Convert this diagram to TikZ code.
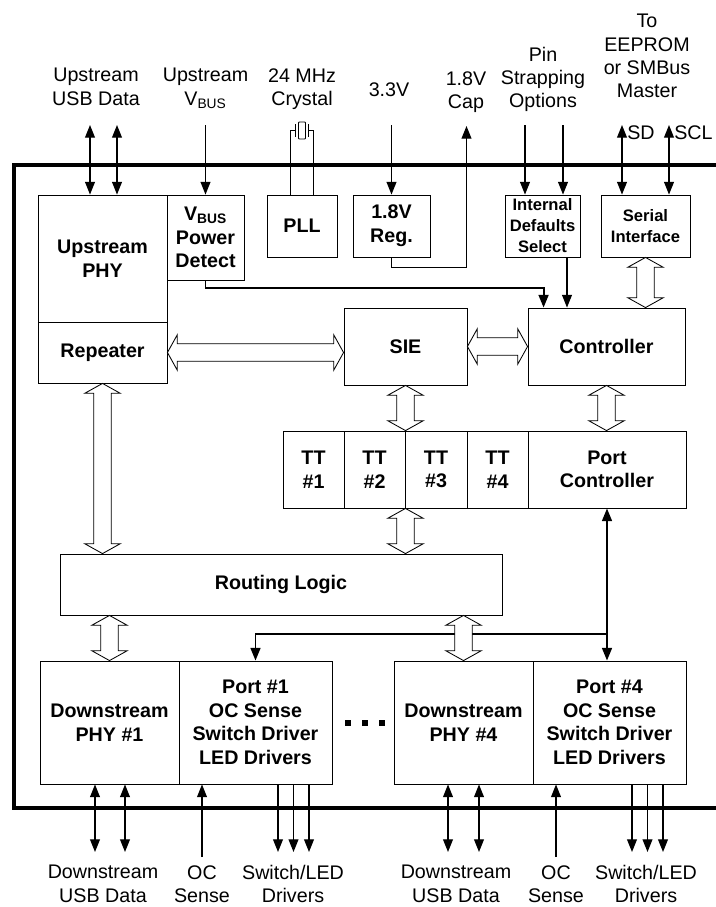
\documentclass[tikz,border=0pt]{standalone}
\usepackage{fontspec}
\setmainfont{Liberation Sans}
\usepackage{tikz}
\usetikzlibrary{positioning,calc,arrows.meta}

\tikzset{
  block/.style={draw, rectangle, line width=0.6pt, inner sep=0pt, align=center, font=\bfseries\fontsize{14}{16.8}\selectfont},
  smallblock/.style={block, font=\bfseries\fontsize{11.8}{14.9}\selectfont},
  schrift/.style={align=center, inner sep=0pt, font=\fontsize{14}{16.5}\selectfont},
  pfeil/.style={line width=0.9pt, -{Triangle[length=9pt,width=7pt]}},
  doppelpfeil/.style={line width=0.9pt, {Triangle[length=9pt,width=7pt]}-{Triangle[length=9pt,width=7pt]}},
  hohlpfeil/.style={draw, fill=white, line width=0.6pt, to path={
    let \p1=(\tikztostart), \p2=(\tikztotarget),
        \n1={veclen(\x2-\x1,\y2-\y1)}, \n2={(\x2-\x1)/\n1}, \n3={(\y2-\y1)/\n1}
    in (\p1) -- ({\x1+7pt*\n2-12.6pt*\n3},{\y1+7pt*\n3+12.6pt*\n2})
       -- ({\x1+7pt*\n2-6.2pt*\n3},{\y1+7pt*\n3+6.2pt*\n2})
       -- ({\x2-7pt*\n2-6.2pt*\n3},{\y2-7pt*\n3+6.2pt*\n2})
       -- ({\x2-7pt*\n2-12.6pt*\n3},{\y2-7pt*\n3+12.6pt*\n2})
       -- (\p2)
       -- ({\x2-7pt*\n2+12.6pt*\n3},{\y2-7pt*\n3-12.6pt*\n2})
       -- ({\x2-7pt*\n2+6.2pt*\n3},{\y2-7pt*\n3-6.2pt*\n2})
       -- ({\x1+7pt*\n2+6.2pt*\n3},{\y1+7pt*\n3-6.2pt*\n2})
       -- ({\x1+7pt*\n2+12.6pt*\n3},{\y1+7pt*\n3-12.6pt*\n2})
       -- cycle}}
}

\begin{document}
\begin{tikzpicture}[x=0.025cm, y=-0.025cm]

    \useasboundingbox (0,0) rectangle (716,907);

    % Chipgrenze
    \draw[line width=2.8pt] (716,165) -- (14,165) -- (14,808) -- (716,808);

    % Bloecke oben
    \node (UpstreamPHY) at (102.5,258.5) [block, minimum width=3.225cm, minimum height=3.175cm] {Upstream\\PHY};
    \node (Repeater) at (102.5,352.5) [block, minimum width=3.225cm, minimum height=1.525cm] {Repeater};
    \node (VbusDetect) at (205.5,237.5) [block, minimum width=1.925cm, minimum height=2.125cm] {V\textsubscript{BUS}\\Power\\Detect};
    \node (PLL) at (302,226) [block, minimum width=1.75cm, minimum height=1.55cm] {PLL};
    \node (Regler) at (391.5,226) [block, minimum width=1.925cm, minimum height=1.55cm] {1.8V\\Reg.};
    \node (Defaults) at (542.5,226) [smallblock, minimum width=1.875cm, minimum height=1.55cm] {Internal\\Defaults\\Select};
    \node (Serial) at (645.5,226) [smallblock, minimum width=2.225cm, minimum height=1.55cm] {Serial\\Interface};

    % Mitte
    \node (SIE) at (405.5,346.5) [block, minimum width=3.075cm, minimum height=1.925cm] {SIE};
    \node (Controller) at (606.5,346.5) [block, minimum width=3.925cm, minimum height=1.925cm] {Controller};
    \node (TT1) at (313.5,469.5) [block, minimum width=1.525cm, minimum height=1.925cm] {TT\\\#1};
    \node (TT2) at (374.5,469.5) [block, minimum width=1.525cm, minimum height=1.925cm] {TT\\\#2};
    \node (TT3) at (436,469.5) [block, minimum width=1.55cm, minimum height=1.925cm] {TT\\\#3};
    \node (TT4) at (497.5,469.5) [block, minimum width=1.525cm, minimum height=1.925cm] {TT\\\#4};
    \node (PortController) at (607,469.5) [block, minimum width=3.95cm, minimum height=1.925cm] {Port\\Controller};
    \node (Routing) at (281,584.5) [block, minimum width=11.05cm, minimum height=1.525cm] {Routing Logic};

    % Ports unten
    \node (DownPHY1) at (109.5,722.5) [block, minimum width=3.475cm, minimum height=3.075cm] {Downstream\\PHY \#1};
    \node (Port1) at (255.5,722.5) [block, minimum width=3.825cm, minimum height=3.075cm] {Port \#1\\OC Sense\\Switch Driver\\LED Drivers};
    \node (DownPHY4) at (463.5,722.5) [block, minimum width=3.475cm, minimum height=3.075cm] {Downstream\\PHY \#4};
    \node (Port4) at (609.5,722.5) [block, minimum width=3.825cm, minimum height=3.075cm] {Port \#4\\OC Sense\\Switch Driver\\LED Drivers};

    % Punkte
    \fill (345,720) rectangle ++(6,6);
    \fill (362,720) rectangle ++(6,6);
    \fill (379,720) rectangle ++(6,6);

    % Beschriftung oben
    \node (UsbText) at (96,68) [schrift, anchor=north] {Upstream\\USB Data};
    \node (VbusText) at (205.5,68) [schrift, anchor=north] {Upstream\\V\textsubscript{BUS}};
    \node (QuarzText) at (302,68) [schrift, anchor=north] {24 MHz\\Crystal};
    \node (V33Text) at (389,82) [schrift, anchor=north] {3.3V};
    \node (CapText) at (466,71) [schrift, anchor=north] {1.8V\\Cap};
    \node (PinText) at (543,47) [schrift, anchor=north] {Pin\\Strapping\\Options};
    \node (EepromText) at (647,14) [schrift, anchor=north] {To\\EEPROM\\or SMBus\\Master};
    \node (SDText) at (627,125) [schrift, anchor=north west] {SD};
    \node (SCLText) at (674,125) [schrift, anchor=north west] {SCL};

    % Beschriftung unten
    \node (DS1Text) at (103,865) [schrift, anchor=north] {Downstream\\USB Data};
    \node (OC1Text) at (202,865) [schrift, anchor=north] {OC\\Sense};
    \node (SW1Text) at (293,865) [schrift, anchor=north] {Switch/LED\\Drivers};
    \node (DS4Text) at (456,865) [schrift, anchor=north] {Downstream\\USB Data};
    \node (OC4Text) at (556,865) [schrift, anchor=north] {OC\\Sense};
    \node (SW4Text) at (646,865) [schrift, anchor=north] {Switch/LED\\Drivers};

    % Anschluesse oben
    \coordinate (USBa) at (90,125);
    \coordinate (USBb) at (117,125);
    \coordinate (VbusOben) at (205.5,125);
    \coordinate (V33Oben) at (391.5,125);
    \coordinate (CapOben) at (466.5,126);
    \coordinate (PinA) at (525,125);
    \coordinate (PinB) at (563,125);
    \coordinate (SDOben) at (622,125);
    \coordinate (SCLOben) at (669,125);
    \coordinate (QuarzL) at (290.5,130);
    \coordinate (QuarzR) at (313.5,130);

    \draw[doppelpfeil] (USBa) -- (USBa |- UpstreamPHY.north);
    \draw[doppelpfeil] (USBb) -- (USBb |- UpstreamPHY.north);
    \draw[pfeil] (VbusOben) -- (VbusDetect.north);
    \draw[pfeil] (V33Oben) -- (V33Oben |- Regler.north);
    \draw[pfeil] (Regler.south) -- ++(0,10) -| (CapOben);
    \draw[pfeil] (PinA) -- (PinA |- Defaults.north);
    \draw[pfeil] (PinB) -- (PinB |- Defaults.north);
    \draw[doppelpfeil] (SDOben) -- (SDOben |- Serial.north);
    \draw[doppelpfeil] (SCLOben) -- (SCLOben |- Serial.north);

    % Quarz
    \draw[line width=0.7pt] (QuarzL |- PLL.north) -- (QuarzL) -- ++(5,0);
    \draw[line width=0.7pt] (QuarzR |- PLL.north) -- (QuarzR) -- ++(-5,0);
    \draw[line width=0.7pt] (295.5,124) -- (295.5,137);
    \draw[line width=0.7pt] (308.5,124) -- (308.5,137);
    \draw[line width=0.7pt, rounded corners=0.5pt] (298.5,122) rectangle (305.5,139);

    % Steuerleitungen
    \coordinate (CtrlEin) at ($(Controller.north west)+(16,0)$);
    \coordinate (DefAus) at ($(Defaults.south)+(24.5,0)$);
    \draw[pfeil, line width=1.4pt] (VbusDetect.south) -- ++(0,8) -| (CtrlEin);
    \draw[pfeil] (DefAus) -- (DefAus |- Controller.north);

    \coordinate (Abzweig) at (PortController.south |- 0,634);
    \draw[doppelpfeil, line width=1.4pt] (PortController.south) -- (PortController.south |- Port4.north);
    \draw[pfeil, line width=1.4pt] (Abzweig) -| (Port1.north);

    % Anschluesse unten
    \coordinate (DS1a) at (95,852);
    \coordinate (DS1b) at (125,852);
    \coordinate (OC1) at (202,857);
    \coordinate (SW1a) at (278,852);
    \coordinate (SW1b) at (293.5,852);
    \coordinate (SW1c) at (309,852);
    \coordinate (DS4a) at (448,852);
    \coordinate (DS4b) at (479,852);
    \coordinate (OC4) at (556,857);
    \coordinate (SW4a) at (632,852);
    \coordinate (SW4b) at (647.5,852);
    \coordinate (SW4c) at (663,852);

    \draw[doppelpfeil] (DS1a |- DownPHY1.south) -- (DS1a);
    \draw[doppelpfeil] (DS1b |- DownPHY1.south) -- (DS1b);
    \draw[pfeil] (OC1) -- (OC1 |- Port1.south);
    \draw[pfeil] (SW1a |- Port1.south) -- (SW1a);
    \draw[pfeil] (SW1b |- Port1.south) -- (SW1b);
    \draw[pfeil] (SW1c |- Port1.south) -- (SW1c);
    \draw[doppelpfeil] (DS4a |- DownPHY4.south) -- (DS4a);
    \draw[doppelpfeil] (DS4b |- DownPHY4.south) -- (DS4b);
    \draw[pfeil] (OC4) -- (OC4 |- Port4.south);
    \draw[pfeil] (SW4a |- Port4.south) -- (SW4a);
    \draw[pfeil] (SW4b |- Port4.south) -- (SW4b);
    \draw[pfeil] (SW4c |- Port4.south) -- (SW4c);

    % Busse
    \draw[hohlpfeil] (Serial.south) to (Serial.south |- Controller.north);
    \draw[hohlpfeil] (Repeater.east) to (Repeater.east -| SIE.west);
    \draw[hohlpfeil] (SIE.east) to (Controller.west);
    \draw[hohlpfeil] (SIE.south) to (SIE.south |- TT3.north);
    \draw[hohlpfeil] (Controller.south) to (Controller.south |- PortController.north);
    \draw[hohlpfeil] (SIE.south |- TT3.south) to (SIE.south |- Routing.north);
    \draw[hohlpfeil] (Repeater.south) to (Repeater.south |- Routing.north);
    \draw[hohlpfeil] (DownPHY1.north |- Routing.south) to (DownPHY1.north);
    \draw[hohlpfeil] (DownPHY4.north |- Routing.south) to (DownPHY4.north);
\end{tikzpicture}
\end{document}
